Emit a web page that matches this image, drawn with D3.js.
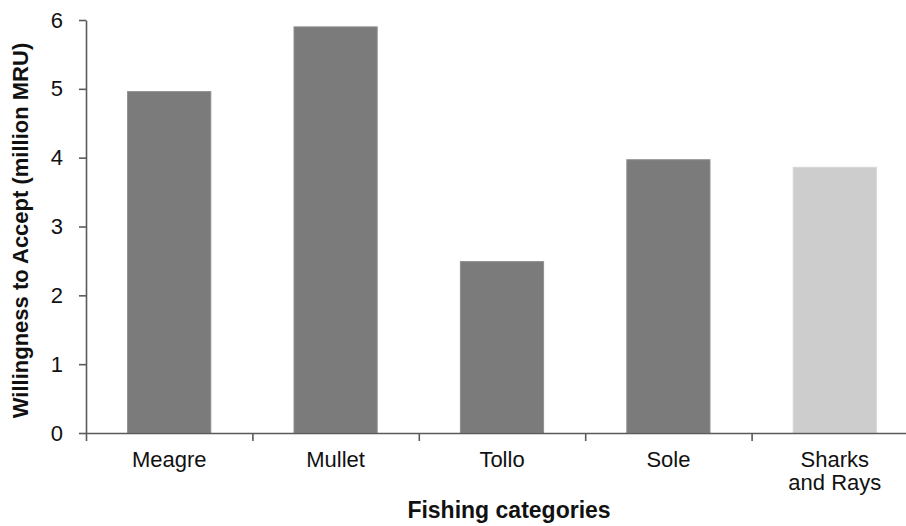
<!DOCTYPE html>
<html>
<head>
<meta charset="utf-8">
<script src="https://cdn.jsdelivr.net/npm/d3@7"></script>
<style>
  body { margin: 0; background: #fff; }
  text { font-family: "Liberation Sans", Arial, sans-serif; fill: #111; }
</style>
</head>
<body>
<div id="chart"></div>
<script>
const WIDTH = 906, HEIGHT = 526;
const MARGIN = { TOP: 20, BOTTOM: 93, LEFT: 86, RIGHT: -12 };

// data
const categories = ["Meagre", "Mullet", "Tollo", "Sole", "Sharks and Rays"];
const tick_lines = [["Meagre"], ["Mullet"], ["Tollo"], ["Sole"], ["Sharks", "and Rays"]];
const wta = [4.96, 5.9, 2.49, 3.97, 3.86];
const bar_colors = ["#7b7b7b", "#7b7b7b", "#7b7b7b", "#7b7b7b", "#cdcdcd"];
const y_ticks = [0, 1, 2, 3, 4, 5, 6];

const svg = d3.select("#chart").append("svg")
    .attr("width", WIDTH)
    .attr("height", HEIGHT);

const x = d3.scaleBand()
    .domain(categories)
    .range([MARGIN.LEFT, WIDTH - MARGIN.RIGHT])
    .paddingInner(0.5)
    .paddingOuter(0.25);

// boundaries between categories, used for the x ticks
const xb = d3.scaleLinear()
    .domain([0, categories.length])
    .range([MARGIN.LEFT, WIDTH - MARGIN.RIGHT]);

const y = d3.scaleLinear()
    .domain([0, 6])
    .range([HEIGHT - MARGIN.BOTTOM, MARGIN.TOP]);

svg.append("g")
    .selectAll("rect")
    .data(wta)
    .enter().append("rect")
    .attr("x", (d, i) => x(categories[i]))
    .attr("y", d => y(d))
    .attr("width", x.bandwidth())
    .attr("height", d => y(0) - y(d))
    .attr("fill", (d, i) => bar_colors[i])
    .attr("stroke", (d, i) => i == 4 ? "#d8d8d8" : "#8f8f8f")
    .attr("stroke-width", 1);

const yAxis = svg.append("g")
    .attr("transform", `translate(${MARGIN.LEFT},0)`)
    .call(d3.axisLeft(y).tickValues(y_ticks).tickFormat(d3.format("d"))
        .tickSize(7).tickPadding(16).tickSizeOuter(0));

yAxis.selectAll("text").style("font-size", "22px");

const xAxis = svg.append("g")
    .attr("transform", `translate(0,${y(0)})`)
    .call(d3.axisBottom(xb).ticks(categories.length).tickFormat("").tickSize(8).tickSizeOuter(0));

svg.selectAll(".domain, .tick line")
    .attr("stroke", "#5a5a5a")
    .attr("stroke-width", 1.6);

// category labels under each bar
const labels = svg.append("g")
    .selectAll("text")
    .data(tick_lines)
    .enter().append("text")
    .attr("x", (d, i) => x(categories[i]) + x.bandwidth() / 2)
    .attr("y", y(0) + 34)
    .attr("text-anchor", "middle")
    .style("font-size", "22px");

labels.selectAll("tspan")
    .data(d => d)
    .enter().append("tspan")
    .attr("x", function() { return this.parentNode.getAttribute("x"); })
    .attr("dy", (d, i) => i == 0 ? 0 : 23)
    .text(d => d);

svg.append("text")
    .attr("x", 509)
    .attr("y", 518)
    .attr("text-anchor", "middle")
    .style("font-size", "23px")
    .style("font-weight", "bold")
    .text("Fishing categories");

svg.append("text")
    .attr("transform", `translate(28,${(MARGIN.TOP + y(0)) / 2 + 4}) rotate(-90)`)
    .attr("text-anchor", "middle")
    .style("font-size", "22px")
    .style("font-weight", "bold")
    .text("Willingness to Accept (million MRU)");
</script>
</body>
</html>
